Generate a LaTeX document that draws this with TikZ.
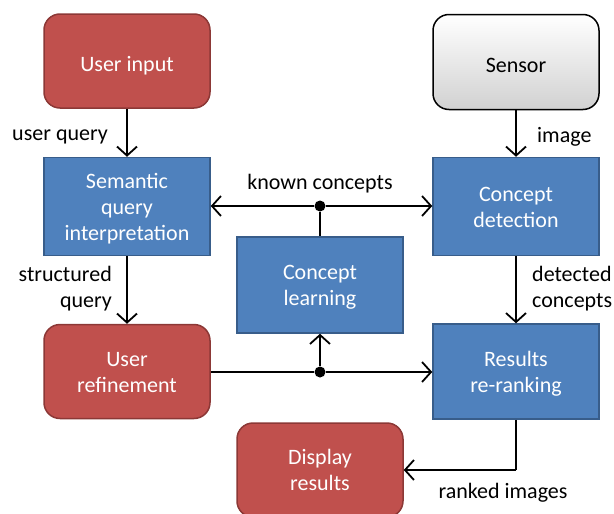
\documentclass[tikz,border=0pt]{standalone}
\usepackage{fontspec}
\setmainfont{Carlito}
\usetikzlibrary{arrows.meta}
\definecolor{redfill}{HTML}{C0504D}
\definecolor{reddraw}{HTML}{8C3836}
\definecolor{bluefill}{HTML}{4F81BD}
\definecolor{bluedraw}{HTML}{385D8A}
\newcommand{\bl}[1]{\raisebox{0pt}[15pt][0pt]{#1}}
\newcommand{\sline}[1]{\raisebox{0pt}[20pt][0pt]{#1}}
\begin{document}
\begin{tikzpicture}[x=1pt,y=-1pt,
  font=\fontsize{22}{26}\selectfont,
  redbox/.style={draw=reddraw,fill=redfill,line width=1.5pt,rounded corners=16pt,
    minimum width=166pt,minimum height=94pt,text=white,align=center,inner sep=0pt},
  bluebox/.style={draw=bluedraw,fill=bluefill,line width=1.5pt,
    minimum width=166pt,minimum height=98pt,text=white,align=center,inner sep=0pt},
  graybox/.style={draw=black,line width=1.5pt,rounded corners=16pt,top color=white,bottom color=black!18,
    minimum width=166pt,minimum height=95pt,align=center,inner sep=0pt},
  conn/.style={line width=1.8pt,-{Straight Barb[length=9pt,width=20pt,line width=1.8pt]}},
  plain/.style={line width=1.8pt},
  dotc/.style={circle,fill=black,inner sep=0pt,minimum size=11pt},
  lbl/.style={inner sep=0pt}
]
\useasboundingbox (0,0) rectangle (614,514);
\node[redbox] (ui) at (127,61) {\sline{User input}};
\node[graybox] (sen) at (516,62) {\sline{Sensor}};
\node[bluebox] (sqi) at (127,206.5) {\bl{Semantic}\\\bl{query}\\\bl{interpretation}};
\node[bluebox] (cd) at (516,206.5) {\bl{Concept}\\\bl{detection}};
\node[bluebox,minimum height=96pt] (cl) at (320,285) {\bl{Concept}\\\bl{learning}};
\node[redbox] (ur) at (127,371.5) {\bl{User}\\\bl{refinement}};
\node[bluebox,minimum height=95pt] (rr) at (516,371.5) {\bl{Results}\\\bl{re-ranking}};
\node[redbox] (dr) at (320,470) {\bl{Display}\\\bl{results}};

\node[dotc] (d1) at (320,206) {};
\node[dotc] (d2) at (320,372) {};
\coordinate (corner) at (516,470);

\draw[conn] (ui) -- (sqi);
\draw[conn] (sen) -- (cd);
\draw[conn] (sqi) -- (ur);
\draw[conn] (cd) -- (rr);
\draw[conn] (d1) -- (sqi.east |- d1);
\draw[conn] (d1) -- (cd.west |- d1);
\draw[plain] (d1) -- (cl);
\draw[plain] (ur.east |- d2) -- (d2);
\draw[conn] (d2) -- (rr.west |- d2);
\draw[conn] (d2) -- (cl);
\draw[plain] (rr.south -| corner) -- (corner);
\draw[conn] (corner) -- (dr.east |- corner);

\node[lbl,anchor=east] (l1) at (108,137) {user query};
\node[lbl,anchor=west] (l2) at (537,137) {image};
\node[lbl] (l3) at (320,184) {known concepts};
\node[lbl,anchor=east,align=right] (l4) at (112,289) {structured\\query};
\node[lbl,anchor=west,align=left] (l5) at (532,289) {detected\\concepts};
\node[lbl] (l6) at (503,493) {ranked images};
\end{tikzpicture}
\end{document}
